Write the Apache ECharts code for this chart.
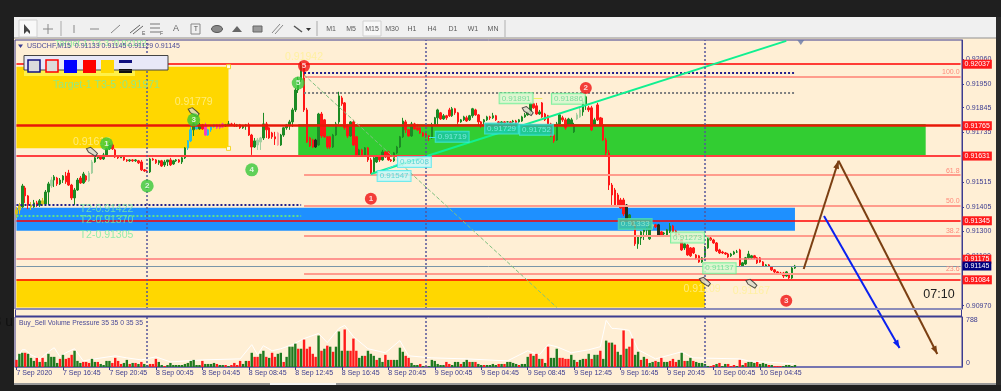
<!DOCTYPE html>
<html>
<head>
<meta charset="utf-8">
<title>USDCHF M15</title>
<script src="https://cdn.jsdelivr.net/npm/echarts@6/dist/echarts.min.js"></script>
<style>
	html,body{margin:0;padding:0;background:#1f1f1f;overflow:hidden;}
	#main{width:1001px;height:391px;filter:blur(0.35px);}
</style>
</head>
<body>
<div id="main"></div>
<script>
	// prices are in points, 91950 means 0.91950
	var opens = [
		91375,91393,91406,91490,91455,91415,91406,91424,91415,91433,91419,91472,91499,91525,91534,91508,
		91525,91543,91556,91503,91446,91481,91534,91512,91543,91521,91556,91605,91623,91627,91618,91636,
		91663,91680,91658,91627,91623,91627,91614,91610,91614,91610,91610,91605,91570,91565,91561,91618,
		91614,91601,91610,91592,91605,91614,91596,91610,91614,91605,91623,91667,91698,91747,91769,91751,
		91769,91769,91724,91747,91760,91769,91756,91773,91764,91769,91773,91769,91764,91769,91756,91764,
		91769,91724,91671,91680,91693,91711,91773,91756,91733,91716,91733,91680,91724,91756,91769,91782,
		91835,91923,91968,92030,91835,91711,91702,91702,91680,91817,91791,91716,91716,91671,91724,91782,
		91888,91866,91764,91720,91782,91716,91636,91658,91636,91667,91614,91561,91605,91632,91614,91649,
		91649,91614,91610,91645,91671,91716,91782,91747,91720,91773,91756,91756,91733,91729,91720,91711,
		91769,91800,91822,91795,91809,91835,91809,91840,91822,91782,91791,91800,91791,91809,91835,91813,
		91782,91782,91791,91804,91800,91809,91782,91778,91782,91782,91782,91782,91786,91782,91786,91804,
		91813,91826,91862,91853,91817,91866,91817,91809,91773,91724,91702,91773,91800,91791,91769,91769,
		91738,91795,91804,91826,91862,91844,91844,91769,91857,91800,91769,91702,91645,91503,91481,91459,
		91437,91437,91415,91357,91349,91327,91243,91269,91296,91305,91265,91322,91327,91327,91296,91287,
		91282,91296,91322,91300,91287,91260,91225,91238,91225,91225,91194,91190,91163,91185,91225,91269,
		91260,91247,91216,91207,91203,91198,91190,91198,91207,91216,91145,91154,91181,91181,91190,91181,
		91181,91163,91145,91150,91141,91128,91119,91114,91114,91101,91106,91092,91136
	];
	var closes = [
		91393,91415,91499,91455,91415,91406,91424,91415,91433,91419,91472,91508,91525,91539,91508,91525,
		91543,91517,91503,91446,91481,91525,91512,91552,91525,91556,91605,91623,91627,91618,91636,91663,
		91680,91663,91627,91623,91627,91614,91610,91614,91610,91614,91601,91570,91565,91561,91618,91614,
		91601,91610,91587,91605,91614,91592,91610,91614,91605,91623,91667,91698,91747,91773,91751,91769,
		91751,91724,91747,91760,91769,91756,91769,91760,91769,91773,91769,91764,91769,91756,91764,91769,
		91724,91671,91698,91702,91711,91773,91747,91711,91716,91707,91680,91724,91756,91769,91782,91835,
		91923,91968,92030,91835,91693,91676,91671,91671,91817,91720,91716,91671,91671,91724,91773,91897,
		91862,91756,91720,91782,91680,91636,91658,91636,91667,91614,91552,91623,91632,91614,91649,91627,
		91614,91610,91645,91671,91716,91786,91747,91720,91773,91751,91747,91733,91720,91720,91711,91769,
		91800,91835,91795,91809,91800,91809,91840,91822,91782,91791,91804,91786,91809,91840,91813,91782,
		91773,91791,91804,91800,91809,91791,91778,91782,91778,91782,91778,91786,91778,91791,91804,91813,
		91826,91862,91844,91817,91826,91804,91791,91760,91720,91698,91773,91813,91791,91756,91795,91791,
		91769,91813,91835,91870,91893,91835,91747,91791,91791,91769,91702,91645,91503,91459,91415,91415,
		91402,91375,91353,91371,91327,91243,91274,91296,91305,91313,91322,91327,91318,91278,91278,91291,
		91305,91322,91296,91282,91282,91216,91243,91194,91190,91203,91181,91163,91181,91229,91269,91260,
		91247,91212,91203,91203,91198,91185,91198,91207,91207,91150,91159,91181,91198,91190,91181,91159,
		91163,91145,91150,91145,91128,91119,91110,91110,91101,91119,91092,91136,91145
	];
	var lows = [
		91357,91375,91402,91424,91397,91393,91402,91406,91406,91410,91415,91415,91490,91494,91499,91503,
		91512,91508,91499,91437,91415,91477,91508,91508,91517,91517,91552,91601,91618,91614,91614,91627,
		91658,91658,91623,91618,91623,91610,91605,91605,91605,91605,91596,91565,91561,91556,91556,91610,
		91596,91592,91583,91583,91587,91587,91592,91605,91601,91596,91618,91658,91693,91720,91747,91747,
		91747,91720,91720,91738,91756,91751,91751,91756,91760,91764,91764,91760,91760,91751,91751,91747,
		91720,91636,91667,91658,91658,91702,91711,91707,91707,91680,91676,91676,91716,91747,91747,91760,
		91826,91910,91959,91826,91689,91671,91667,91667,91676,91711,91711,91663,91663,91667,91720,91773,
		91853,91747,91711,91716,91676,91627,91632,91632,91632,91605,91543,91552,91601,91605,91610,91623,
		91610,91605,91605,91640,91667,91711,91733,91716,91716,91747,91742,91729,91716,91711,91698,91707,
		91764,91769,91791,91791,91791,91804,91804,91813,91773,91778,91786,91782,91786,91800,91809,91769,
		91756,91773,91786,91791,91795,91786,91773,91773,91773,91778,91773,91778,91773,91778,91782,91800,
		91809,91817,91840,91813,91813,91800,91786,91751,91716,91689,91698,91769,91782,91747,91764,91764,
		91733,91791,91800,91809,91835,91826,91742,91764,91786,91764,91698,91636,91481,91415,91410,91410,
		91397,91366,91349,91353,91322,91234,91221,91238,91260,91282,91260,91309,91313,91274,91274,91282,
		91278,91291,91291,91278,91278,91212,91216,91190,91185,91198,91176,91159,91159,91181,91221,91256,
		91243,91207,91198,91198,91194,91181,91185,91194,91203,91145,91141,91150,91176,91176,91176,91154,
		91159,91141,91141,91141,91123,91114,91106,91106,91092,91097,91088,91088,91132
	];
	var highs = [
		91406,91424,91508,91499,91459,91428,91437,91433,91441,91446,91481,91517,91539,91547,91539,91534,
		91547,91561,91570,91508,91490,91534,91543,91561,91547,91565,91614,91627,91632,91632,91645,91667,
		91689,91685,91663,91632,91632,91632,91618,91618,91618,91618,91614,91614,91574,91570,91623,91623,
		91618,91614,91614,91614,91614,91623,91614,91618,91618,91627,91671,91702,91760,91778,91778,91778,
		91773,91778,91751,91764,91773,91773,91773,91778,91773,91786,91778,91778,91773,91773,91769,91773,
		91778,91729,91711,91711,91716,91822,91782,91760,91738,91738,91738,91729,91760,91773,91791,91844,
		91932,91981,92047,92043,91844,91716,91707,91707,91822,91826,91795,91720,91720,91729,91782,91915,
		91897,91870,91773,91786,91791,91720,91663,91663,91671,91671,91623,91627,91636,91636,91658,91654,
		91654,91618,91649,91676,91720,91800,91791,91751,91782,91778,91773,91760,91738,91733,91724,91778,
		91804,91840,91826,91817,91813,91844,91848,91844,91826,91795,91809,91809,91813,91844,91840,91817,
		91786,91795,91809,91809,91822,91813,91786,91786,91786,91786,91786,91791,91791,91795,91809,91822,
		91817,91870,91866,91866,91835,91870,91822,91813,91778,91729,91782,91822,91809,91800,91800,91800,
		91778,91822,91844,91879,91897,91853,91853,91800,91866,91804,91800,91711,91658,91512,91490,91468,
		91446,91446,91419,91375,91353,91331,91278,91300,91309,91318,91331,91331,91331,91331,91300,91296,
		91309,91335,91327,91305,91291,91265,91247,91243,91229,91229,91198,91194,91185,91234,91274,91274,
		91265,91251,91221,91212,91207,91203,91203,91212,91216,91221,91163,91185,91212,91194,91194,91185,
		91185,91167,91154,91154,91145,91132,91123,91119,91119,91123,91110,91141,91150
	];
	var volume = [
		112,208,224,224,208,144,96,144,80,144,80,208,160,160,64,128,
		192,128,144,192,256,96,64,80,80,64,128,80,80,48,32,96,
		96,64,144,96,48,64,112,48,64,64,48,80,48,32,48,48,
		128,80,32,16,32,64,32,32,32,32,48,64,96,112,32,32,
		96,48,48,48,64,48,32,32,32,16,32,64,32,96,48,96,
		96,224,160,160,208,256,160,144,224,160,208,224,80,160,320,320,
		368,288,288,432,288,320,208,160,496,256,288,336,320,240,320,560,
		256,592,256,256,448,256,144,176,176,256,208,176,112,144,80,192,
		112,112,112,112,304,240,176,144,64,32,32,48,16,16,16,112,
		96,48,32,32,80,48,32,80,80,48,80,112,80,80,80,48,
		32,32,32,32,48,32,48,48,48,80,80,64,48,32,48,48,
		160,208,176,208,128,128,64,320,144,144,288,144,144,128,128,192,
		112,80,112,128,128,208,128,192,192,256,128,416,384,384,352,240,
		192,576,288,320,448,192,240,112,160,128,64,80,96,80,144,80,
		80,96,128,80,112,224,96,96,144,96,80,64,64,48,16,16,
		32,48,64,16,48,48,16,32,16,112,32,64,80,80,64,80,
		48,64,48,32,32,16,16,16,16,32,32,16,32
	];
	// G buy bar, R sell bar
	var volSide = [
		'RGGRGGGRGRGGGGGR','GRRRGGGRRRGGRGGG','GRRRRGGRGRGRGGRR','RGGRGGGGGGGGGGGG',
		'RGGGGRGGRGRRRRGG','RGRRGGRGRRGGRGGG','GRGRRRRRGRGRGRGG','GRGRRRGGRGGGRGGR',
		'GRGGGGRRGGGRGRGG','GGGGRRGGGRGGRGRG','GRGGGGRGRGGGGRGG','GRGRGRGRGGGRRRRG',
		'GRGGRGRGGRGGRGRG','GRGRRGGRGRGGRGRG','GRRRGGRGGRGGGGGR','RGRGGRRRGRGRGGGR',
		'GGGRGRRRGGGGG'
	].join('');
	// thin white pressure line, bar index and value
	var volPeak = [
		[0,128],[2,272],[3,272],[5,192],[8,128],[11,240],[13,304],[15,160],[17,224],[20,288],[23,96],[27,128],
		[34,176],[38,144],[43,112],[48,160],[53,80],[64,112],[77,128],[81,352],[83,192],[85,336],[88,256],
		[91,288],[95,352],[99,448],[104,528],[107,384],[111,608],[113,656],[116,480],[121,288],[127,224],
		[132,416],[135,176],[143,144],[155,128],[169,96],[176,256],[180,192],[183,352],[186,320],[191,224],
		[197,272],[201,320],[203,736],[205,608],[206,608],[209,592],[211,576],[214,272],[220,128],[229,240],
		[233,144],[249,128],[252,96],[268,48]
	];
	// candle tints seen in the picture
	var tintCyan = [59,60,62,66,67,68];
	var tintMagenta = [65,69,70,71];
	var tintYellow = [0,1,5,9];
	var tintPale = [12,25,26,83,84,90,193,194,219];
	var tintDark = [103,210,221];

	var timeLabels = ['7 Sep 2020','7 Sep 16:45','7 Sep 20:45','8 Sep 00:45','8 Sep 04:45','8 Sep 08:45','8 Sep 12:45',
		'8 Sep 16:45','8 Sep 20:45','9 Sep 00:45','9 Sep 04:45','9 Sep 08:45','9 Sep 12:45','9 Sep 16:45','9 Sep 20:45',
		'10 Sep 00:45','10 Sep 04:45'];
	var priceTicks = [92060,91950,91845,91735,91625,91515,91405,91300,91190,91080,90970];
	var timeframes = ['M1','M5','M15','M30','H1','H4','D1','W1','MN'];
	var daySeparators = [45,141,237];

	var levelPrices = [92037,91765,91631,91345,91175,91145,91084];
	var fibPrices = [91981,91547,91411,91278,91112];
	var fibNames = ['100.0','61.8','50.0','38.2','23.6'];

	var greenMarks = [[31,91685,'1'],[45,91499,'2'],[61,91791,'3'],[81,91570,'4'],[97,91954,'5']];
	var redMarks = [[122,91442,'1'],[196,91932,'2'],[265,90991,'3'],[99,92029,'5']];
	var handIcons = [[26,91650],[61,91825],[176,91830],[237,91075],[253,91067]];

	var boxText = ['0.91719','0.91608','0.91547','0.91729','0.91752','0.91891','0.91886','0.91333','0.91273','0.91137'];
	var boxIdx = [150,137,130,167,179,172,190,213,231,242];
	var boxPrice = [91716,91605,91543,91753,91747,91886,91884,91331,91271,91135];

	var paleText = ['0.91942','0.91779','0.91612','0.91109','0.91167'];
	var paleIdx = [99,61,26,236,253];
	var palePrice = [92069,91870,91693,91043,91035];
	var targetText = ['Target-1 T3-5 :0.91971','T2-0.91422','T2-0.91370','T2-0.91305'];
	var targetIdx = [31,31,31,31];
	var targetPrice = [91945,91397,91346,91282];

	var barCount = 326;
	var cats = [];
	for (var n = 0; n < barCount; n++) {
		cats.push(String(n));
	}

	var mainColor = '#3c3c90';
	var upColor = '#1c8a24';
	var downColor = '#ff1616';
	var fontName = '"Liberation Sans", Arial, sans-serif';

	function tinted(i) {
		if (tintCyan.indexOf(i) >= 0) return '#28c0e0';
		if (tintMagenta.indexOf(i) >= 0) return '#f040c0';
		if (tintYellow.indexOf(i) >= 0) return '#d8c020';
		if (tintDark.indexOf(i) >= 0) return '#203020';
		if (tintPale.indexOf(i) >= 0) return closes[i] >= opens[i] ? '#a4cfa0' : '#ffa0a0';
		return null;
	}

	var candles = opens.map(function(o, i) {
		var item = {value: [o, closes[i], lows[i], highs[i]]};
		var c = tinted(i);
		if (c) {
			item.itemStyle = {color: c, color0: c, borderColor: c, borderColor0: c};
		}
		return item;
	});

	var volBars = volume.map(function(v, i) {
		return {value: v, itemStyle: {color: volSide[i] == 'G' ? '#1f7a1f' : '#ff1a1a'}};
	});

	function hLine(price, from, to, style, label) {
		return [{coord: [from, price], lineStyle: style, label: label || {show: false}}, {coord: [to, price]}];
	}
	function seg(i0, p0, i1, p1, style) {
		return [{coord: [i0, p0], lineStyle: style, label: {show: false}}, {coord: [i1, p1]}];
	}
	function tag(text, bg) {
		return {
			show: true, position: 'end', distance: 2, formatter: text, color: '#fff', backgroundColor: bg || '#ff1a1a',
			fontSize: 7, fontFamily: fontName, padding: [1, 2, 1, 2]
		};
	}
	function priceName(p) {
		return '0.' + p;
	}

	var levelStyles = [
		{color: '#ff0000', width: 1.5, type: 'solid'},
		{color: '#e81808', width: 2.5, type: 'solid'},
		{color: '#ff4040', width: 2, type: 'solid'},
		{color: '#ff0000', width: 1.5, type: 'solid'},
		{color: '#ff7878', width: 1.5, type: 'solid'},
		{color: '#7a96a8', width: 1, type: 'solid'},
		{color: '#ff0000', width: 1.5, type: 'solid'}
	];

	var lineData = [];
	levelPrices.forEach(function(p, i) {
		lineData.push(hLine(p, 0, 325, levelStyles[i], tag(priceName(p), p == 91145 ? '#000080' : '#ff1a1a')));
	});
	fibPrices.forEach(function(p, i) {
		lineData.push(hLine(p, 99, 325, {color: '#ff9c8c', width: 2, type: 'solid'}, {
			show: true, position: 'insideEndTop', distance: 1, formatter: fibNames[i], color: '#ff8a7a', fontSize: 7, fontFamily: fontName
		}));
	});
	// dotted levels
	lineData.push(hLine(91998, 99, 268, {color: '#20208c', width: 2, type: 'dotted'}));
	lineData.push(hLine(91913, 99, 268, {color: '#808080', width: 2, type: 'dotted'}));
	lineData.push(hLine(91416, 0, 98, {color: '#20208c', width: 2, type: 'dotted'}));
	lineData.push(hLine(91366, 0, 98, {color: '#60e088', width: 2, type: 'dotted'}));
	// fib diagonal, trend line and the small stubs of the price boxes
	lineData.push(seg(99, 91990, 186, 90962, {color: '#80c080', width: 1, type: 'dashed'}));
	lineData.push(seg(122, 91552, 265, 92140, {color: '#10f090', width: 2, type: 'solid'}));
	lineData.push(seg(142, 91716, 145, 91716, {color: '#40e8e8', width: 1, type: 'solid'}));
	lineData.push(seg(127, 91570, 132, 91600, {color: '#40e8e8', width: 1, type: 'solid'}));
	lineData.push(seg(178, 91886, 181, 91886, {color: '#f0f060', width: 1, type: 'solid'}));
	lineData.push(seg(236, 91145, 248, 91145, {color: '#60f090', width: 1, type: 'solid'}));
	lineData.push(seg(236, 91290, 239, 91260, {color: '#60f090', width: 1, type: 'solid'}));
	daySeparators.forEach(function(d) {
		lineData.push({xAxis: d, lineStyle: {color: '#55559a', width: 1.5, type: [2, 2]}, label: {show: false}});
	});

	function boxStyle(i) {
		if (i == 0 || i == 3 || i == 4) return {bg: '#1cc8a8', border: '#40e8e8', color: '#8ff0f0'};
		if (i == 1 || i == 2) return {bg: '#c8f8f8', border: '#50e8f0', color: '#40d0d0'};
		if (i == 7) return {bg: '#40c8a0', border: '#50e0b0', color: '#a0f0d0'};
		return {bg: '#d8f8d0', border: '#60f090', color: '#60d890'};
	}

	// text only marks: a scatter with symbol none drops its label, so the symbol is kept and made transparent
	var hiddenDot = {color: 'rgba(0,0,0,0)'};

	var boxData = boxText.map(function(t, i) {
		var s = boxStyle(i);
		return {
			value: [boxIdx[i], boxPrice[i]],
			label: {
				show: true, position: 'inside', formatter: t, color: s.color, fontSize: 8, fontFamily: fontName,
				backgroundColor: s.bg, borderColor: s.border, borderWidth: 1, padding: [1, 2, 1, 2]
			}
		};
	});

	function textSeries(idx, price, text, color, size, z) {
		return {
			type: 'scatter', symbol: 'circle', symbolSize: 1, itemStyle: hiddenDot, z: z || 7, silent: true,
			data: text.map(function(t, i) {
				return {value: [idx[i], price[i]], label: {show: true, position: 'inside', formatter: t, color: color, fontSize: size, fontFamily: fontName}};
			})
		};
	}

	function circleSeries(rows, color, size) {
		return {
			type: 'scatter', symbol: 'circle', symbolSize: size, z: 8, silent: true,
			itemStyle: {color: color},
			label: {show: true, position: 'inside', color: '#fff', fontSize: 8, fontWeight: 'bold', fontFamily: fontName, formatter: function(p) { return p.data[2]; }},
			data: rows
		};
	}

	// arrows: from bar, from price, to bar, to price, colour slot, head or not
	var arrowColors = ['#7b3f12', '#0a20f0'];
	var arrowRows = [
		[271,91132,283,91610,0,1],
		[283,91610,317,90756,0,1],
		[278,91366,304,90783,1,1]
	];

	function renderArrow(params, api) {
		var a = api.coord([api.value(0), api.value(1)]);
		var b = api.coord([api.value(2), api.value(3)]);
		var col = arrowColors[api.value(4)];
		var ang = Math.atan2(b[1] - a[1], b[0] - a[0]);
		var len = 8, wid = 3;
		var base = [b[0] - Math.cos(ang) * len, b[1] - Math.sin(ang) * len];
		var head = [
			b,
			[base[0] - Math.sin(ang) * wid, base[1] + Math.cos(ang) * wid],
			[base[0] + Math.sin(ang) * wid, base[1] - Math.cos(ang) * wid]
		];
		return {
			type: 'group',
			children: [
				{type: 'line', shape: {x1: a[0], y1: a[1], x2: b[0], y2: b[1]}, style: {stroke: col, lineWidth: 2}},
				{type: 'polygon', shape: {points: head}, style: {fill: col}}
			]
		};
	}

	// window chrome, not data
	function box(x, y, w, h, fill, z, stroke, lw) {
		return {type: 'rect', z: z, silent: true, shape: {x: x, y: y, width: w, height: h}, style: {fill: fill, stroke: stroke || null, lineWidth: lw || 0}};
	}
	function txt(x, y, s, size, color, z, align) {
		return {type: 'text', z: z, silent: true, x: x, y: y, style: {text: s, fontSize: size, fill: color, fontFamily: fontName, align: align || 'left', verticalAlign: 'middle'}};
	}
	function ln(x1, y1, x2, y2, color, w, z) {
		return {type: 'line', z: z || 20, silent: true, shape: {x1: x1, y1: y1, x2: x2, y2: y2}, style: {stroke: color, lineWidth: w || 1}};
	}

	var chrome = [
		box(0, 0, 1001, 17, '#1f1f1f', -10),
		box(14, 17, 982, 22, '#f0f0f0', -10),
		box(14, 38, 982, 345, '#ffefd5', -10),
		ln(14, 38, 996, 38, '#909090', 1, -9),
		box(14, 383, 982, 2, '#9a9a9a', -9),
		box(270, 383, 66, 2, '#f4f4f4', -8),
		box(996, 17, 5, 368, '#2a2a2a', -9),
		txt(13, 322, '3 u', 14, '#101010', -9, 'right'),
		// frame between the two windows
		box(15, 308, 947, 2, '#8c8cb8', 20),
		box(15, 315.5, 947, 1.5, '#3c3c90', 20),
		box(15, 310, 1, 6, '#3c3c90', 20),
		box(961, 310, 1, 6, '#3c3c90', 20),
		// tool bar
		box(19, 20, 18, 17, '#f8f8f8', 5, '#d0d0d0', 1),
		{type: 'polygon', z: 6, silent: true, shape: {points: [[24, 24], [24, 34], [27, 31], [30, 34], [30, 31]]}, style: {fill: '#444'}},
		ln(48, 24, 48, 34, '#888', 1),
		ln(43, 29, 53, 29, '#888', 1),
		ln(61, 21, 61, 36, '#aaa', 1),
		ln(74, 25, 74, 33, '#888', 1),
		ln(90, 29, 99, 29, '#888', 1),
		ln(111, 33, 120, 25, '#888', 1),
		ln(130, 33, 140, 25, '#666', 1),
		ln(133, 34, 143, 26, '#666', 1),
		txt(142, 34, 'E', 5, '#555', 6),
		ln(150, 24, 160, 24, '#777', 1),
		ln(150, 28, 160, 28, '#777', 1),
		ln(150, 32, 160, 32, '#777', 1),
		txt(160, 34, 'F', 5, '#555', 6),
		txt(176, 29, 'A', 9, '#666', 6, 'center'),
		box(191, 24, 9, 10, 'none', 6, '#888', 1),
		txt(196, 29, 'T', 7, '#555', 6, 'center'),
		{type: 'ellipse', z: 6, silent: true, shape: {cx: 217, cy: 29, rx: 5.5, ry: 3.5}, style: {fill: '#888', stroke: '#555'}},
		{type: 'polygon', z: 6, silent: true, shape: {points: [[232, 32], [237, 26], [242, 32]]}, style: {fill: '#666'}},
		box(253, 26, 9, 6, '#999', 6, '#666', 1),
		ln(272, 33, 280, 24, '#888', 1),
		ln(275, 34, 283, 25, '#888', 1),
		ln(294, 26, 302, 32, '#555', 1.5),
		{type: 'polygon', z: 6, silent: true, shape: {points: [[306, 28], [311, 28], [308.5, 31]]}, style: {fill: '#333'}},
		ln(317, 21, 317, 36, '#aaa', 1),
		box(363, 21, 18, 15, '#f8f8f8', 5, '#d0d0d0', 1),
		ln(505, 20, 505, 37, '#b0b0b0', 1),
		// window texts
		{type: 'polygon', z: 30, silent: true, shape: {points: [[18, 44.5], [23, 44.5], [20.5, 48]]}, style: {fill: '#3c3c90'}},
		txt(55, 44, 'Target-1 T3-3 :0.92192', 9, '#90e8a0', 29),
		txt(27, 46.5, 'USDCHF,M15  0.91133 0.91145 0.91129 0.91145', 7, '#4a4a98', 30),
		txt(19, 323, 'Buy_Sell Volume Pressure 35 35 0 35 35', 6.8, '#4a4a98', 30),
		txt(939, 294.5, '07:10', 12.5, '#222', 30, 'center'),
		// colour panel
		box(24, 70, 111, 6, '#fff04a', 30),
		box(119, 69, 13, 4, '#101010', 30),
		box(24, 55.5, 144, 14.5, '#e8e8f8', 31, '#444', 1),
		box(28, 60, 12, 12, '#dcdcdc', 32, '#101080', 1.5),
		box(46, 60, 12, 12, '#dcdcdc', 32, '#ff0000', 1.5),
		box(64, 60, 13, 13, '#0000ff', 32),
		box(83, 60, 13, 13, '#ff0000', 32),
		box(101, 60, 13, 13, '#ffd700', 32),
		box(119, 60, 13, 3, '#101080', 32),
		box(119, 69, 13, 1, '#101010', 32)
	];
	timeframes.forEach(function(t, i) {
		var xs = [331, 351, 372, 392, 412, 432, 453, 473, 493];
		chrome.push(txt(xs[i], 29, t, 7, '#5a5a5a', 6, 'center'));
	});

	var mychart = echarts.init(document.getElementById('main'));
	var option = {
		animation: false,
		backgroundColor: '#1f1f1f',
		graphic: {elements: chrome},
		grid: [
			{left: 15, top: 40, width: 947, height: 269, show: true, borderColor: mainColor, borderWidth: 1, backgroundColor: 'transparent'},
			{left: 15, top: 317, width: 947, height: 50, show: true, borderColor: mainColor, borderWidth: 1, backgroundColor: 'transparent'}
		],
		xAxis: [
			{type: 'category', gridIndex: 0, data: cats, show: false},
			{
				type: 'category', gridIndex: 1, data: cats,
				axisLine: {show: true, onZero: false, lineStyle: {color: '#6a6ab0', width: 1.5}},
				axisTick: {
					show: true, alignWithLabel: true, length: 3, lineStyle: {color: mainColor},
					interval: function(i) { return i % 16 == 0 && i <= 256; }
				},
				axisLabel: {
					show: true, align: 'left', margin: 3, fontSize: 7, color: mainColor, fontFamily: fontName,
					hideOverlap: false,
					interval: function(i) { return i % 16 == 0 && i <= 256; },
					formatter: function(v, i) { return timeLabels[i / 16]; }
				},
				splitLine: {show: false}
			}
		],
		yAxis: [
			{
				type: 'value', gridIndex: 0, position: 'right', min: 90955, max: 92144, scale: true,
				axisLine: {show: true, lineStyle: {color: mainColor}},
				axisTick: {show: true, length: 2, customValues: priceTicks, lineStyle: {color: mainColor}},
				axisLabel: {
					show: true, margin: 4, fontSize: 7, color: mainColor, fontFamily: fontName, customValues: priceTicks,
					formatter: function(v) { return '0.' + v; }
				},
				splitLine: {show: false}
			},
			{
				type: 'value', gridIndex: 1, position: 'right', min: 0, max: 788,
				axisLine: {show: true, lineStyle: {color: mainColor}},
				axisTick: {show: false},
				axisLabel: {
					show: true, margin: 4, fontSize: 7, color: mainColor, fontFamily: fontName, customValues: [0, 788],
					verticalAlignMinLabel: 'bottom', verticalAlignMaxLabel: 'top'
				},
				splitLine: {show: false}
			}
		],
		series: [
			{
				name: 'USDCHF', type: 'candlestick', xAxisIndex: 0, yAxisIndex: 0, z: 3, barWidth: 2, silent: true,
				itemStyle: {color: upColor, color0: downColor, borderColor: upColor, borderColor0: downColor, borderWidth: 1},
				data: candles,
				markArea: {
					silent: true, z: 1,
					label: {show: false},
					data: [
						[{coord: [0, 92026], itemStyle: {color: '#ffd700'}}, {coord: [73, 91665]}],
						[{coord: [97, 91773], itemStyle: {color: '#32cd32'}}, {coord: [313, 91632]}],
						[{coord: [0, 91403], itemStyle: {color: '#1e90ff'}}, {coord: [268, 91301]}],
						[{coord: [0, 91086], itemStyle: {color: '#ffd700'}}, {coord: [237, 90962]}]
					]
				},
				markLine: {silent: true, z: 5, symbol: ['none', 'none'], data: lineData}
			},
			{
				type: 'scatter', xAxisIndex: 0, yAxisIndex: 0, symbol: 'rect', symbolSize: 4, z: 6, silent: true,
				itemStyle: {color: '#fff', borderColor: '#f0d000', borderWidth: 1},
				data: [[73, 92026], [73, 91665]]
			},
			{
				type: 'scatter', xAxisIndex: 0, yAxisIndex: 0, symbol: 'triangle', symbolRotate: 180, symbolSize: [7, 5], z: 6, silent: true,
				itemStyle: {color: '#6878a8'},
				data: [[270, 92133]]
			},
			{
				type: 'scatter', xAxisIndex: 0, yAxisIndex: 0, symbol: 'path://M0 2 L6 0 L12 5 L16 9 L13 13 L8 10 L3 7 Z', symbolSize: [11, 9], z: 8, silent: true,
				itemStyle: {color: '#d8d8c8', borderColor: '#282828', borderWidth: 1},
				data: handIcons
			},
			Object.assign(textSeries(targetIdx, targetPrice, targetText, '#78eca0', 10.5), {xAxisIndex: 0, yAxisIndex: 0}),
			Object.assign(textSeries(paleIdx, palePrice, paleText, '#fff096', 10.5), {xAxisIndex: 0, yAxisIndex: 0}),
			{type: 'scatter', xAxisIndex: 0, yAxisIndex: 0, symbol: 'circle', symbolSize: 1, itemStyle: hiddenDot, z: 7, silent: true, data: boxData},
			Object.assign(circleSeries(greenMarks, '#38c838', 13), {xAxisIndex: 0, yAxisIndex: 0}),
			Object.assign(circleSeries(redMarks, '#f01010', 12), {xAxisIndex: 0, yAxisIndex: 0}),
			{
				type: 'custom', xAxisIndex: 0, yAxisIndex: 0, z: 9, clip: false, silent: true,
				encode: {x: 0, y: 1},
				renderItem: renderArrow,
				data: arrowRows
			},
			{
				type: 'line', xAxisIndex: 1, yAxisIndex: 1, z: 1, silent: true, symbol: 'none',
				lineStyle: {color: '#ffffff', width: 1},
				data: volPeak
			},
			{
				name: 'Volume', type: 'bar', xAxisIndex: 1, yAxisIndex: 1, z: 2, barWidth: 2.4, silent: true,
				data: volBars,
				markLine: {
					silent: true, z: 5, symbol: ['none', 'none'], label: {show: false},
					data: daySeparators.map(function(d) {
						return {xAxis: d, lineStyle: {color: '#55559a', width: 1.5, type: [2, 2]}};
					})
				}
			}
		]
	};
	mychart.setOption(option, true);
</script>
</body>
</html>
